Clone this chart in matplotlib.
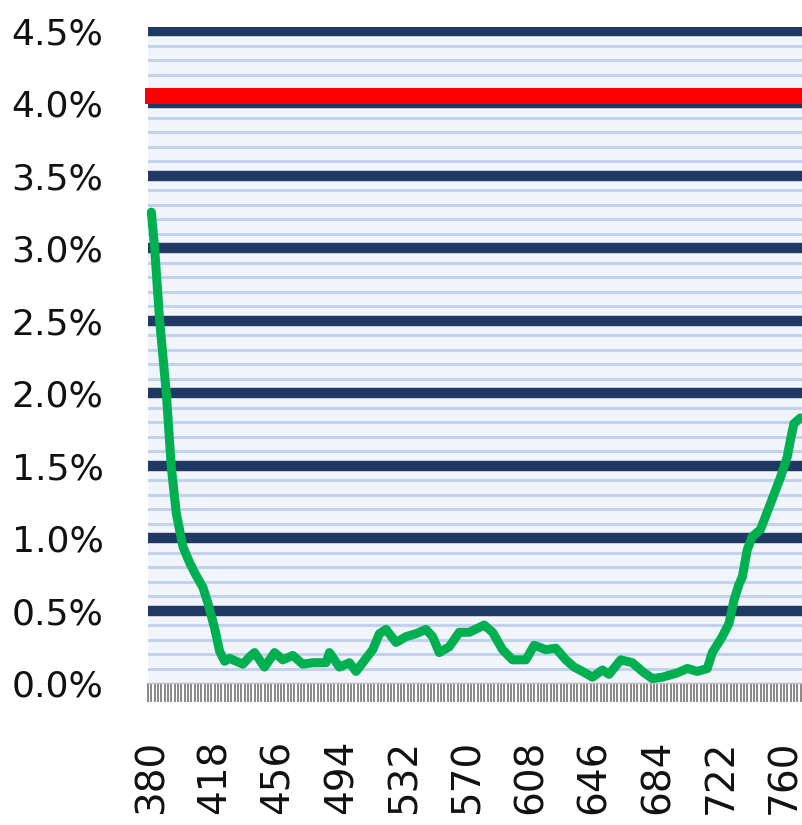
import matplotlib
matplotlib.use("Agg")
import matplotlib.pyplot as plt
import numpy as np
from matplotlib.ticker import FixedLocator, FuncFormatter

# wavelength (nm) and relative value (%)
wavelength = [380, 382, 385, 389, 392, 395, 399, 403, 407, 411, 414, 418, 421, 424,
              427, 431, 435, 439, 442, 448, 454, 459, 465, 471, 477, 485, 487, 493,
              499, 503, 509, 513, 517, 521, 527, 533, 539, 545, 549, 553, 559, 565,
              571, 580, 585, 591, 597, 605, 610, 617, 623, 629, 634, 639, 645, 651,
              655, 662, 669, 675, 681, 687, 696, 702, 708, 714, 717, 723, 727, 730,
              733, 735, 738, 741, 746, 752, 758, 762, 764, 766, 770]
value = [3.25, 3.00, 2.50, 2.00, 1.49, 1.17, 0.94, 0.83, 0.74, 0.66, 0.55, 0.38, 0.22, 0.15,
         0.17, 0.15, 0.13, 0.18, 0.21, 0.11, 0.21, 0.16, 0.19, 0.13, 0.14, 0.14, 0.21, 0.11,
         0.14, 0.08, 0.17, 0.23, 0.34, 0.37, 0.28, 0.32, 0.34, 0.37, 0.32, 0.21, 0.25, 0.35,
         0.35, 0.40, 0.35, 0.23, 0.16, 0.16, 0.26, 0.23, 0.24, 0.16, 0.11, 0.08, 0.04, 0.09,
         0.06, 0.16, 0.14, 0.08, 0.03, 0.04, 0.07, 0.10, 0.08, 0.10, 0.21, 0.32, 0.41, 0.57,
         0.68, 0.73, 0.92, 1.01, 1.06, 1.24, 1.42, 1.56, 1.68, 1.79, 1.83]
limit_value = 4.05
x_labels = [380, 418, 456, 494, 532, 570, 608, 646, 684, 722, 760]
y_major = [0.0, 0.5, 1.0, 1.5, 2.0, 2.5, 3.0, 3.5, 4.0, 4.5]

W, H = 803, 825
fig = plt.figure(figsize=(W / 100, H / 100), dpi=100)
left, right, top, bottom = 148, 803, 27, 683
ax = fig.add_axes([left / W, (H - bottom) / H, (right - left) / W, (bottom - top) / H])
ax.set_facecolor("#f1f4fb")

ax.set_xlim(378, 771.5)
ax.set_ylim(0, 4.528)

# minor gridlines every 0.1 %
for v in np.arange(1, 45):
    y = v / 10
    if v % 5 != 0:
        ax.axhline(y, color="#c3d1ec", lw=2.2, zorder=1)
# major gridlines
for y in y_major[1:]:
    ax.axhline(y, color="#1f3864", lw=7.5, zorder=2)

# limit line
ax.plot([376, 771.5], [limit_value, limit_value], color="#ff0000", lw=11.5,
        solid_capstyle="butt", zorder=4, clip_on=False)

# data
ax.plot(wavelength, value, color="#00b050", lw=6.5, solid_joinstyle="round",
        solid_capstyle="round", zorder=5, clip_on=False)

for s in ["top", "right", "left"]:
    ax.spines[s].set_visible(False)
ax.spines["bottom"].set_color("#c0c0c0")
ax.spines["bottom"].set_linewidth(1)

ax.yaxis.set_major_locator(FixedLocator(y_major))
ax.yaxis.set_major_formatter(FuncFormatter(lambda v, p: f"{v:.1f}%"))
ax.tick_params(axis="y", length=0, pad=32, labelsize=26, labelcolor="#111111")

ax.xaxis.set_major_locator(FixedLocator(x_labels))
ax.xaxis.set_minor_locator(FixedLocator(list(range(378, 772, 2))))
ax.set_xticklabels([str(v) for v in x_labels], rotation=90)
ax.tick_params(axis="x", which="both", length=14, width=1.3, color="#7f7f7f",
               direction="out")
ax.tick_params(axis="x", which="major", pad=27, labelsize=28, labelcolor="#111111")

fig.savefig("out.png", dpi=100)
